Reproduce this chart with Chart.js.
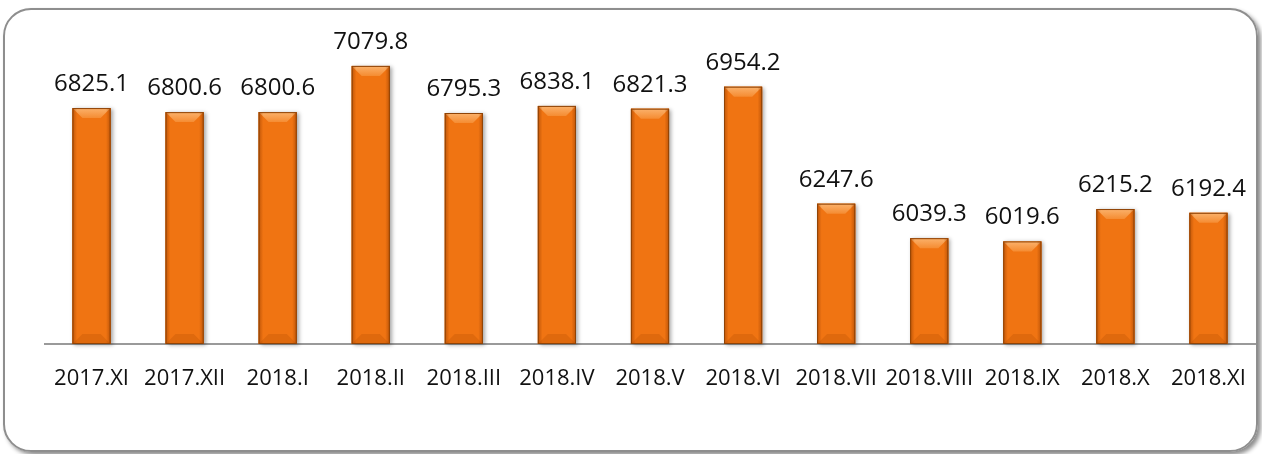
<!DOCTYPE html>
<html>
<head>
<meta charset="utf-8">
<script src="https://cdn.jsdelivr.net/npm/chart.js@4/dist/chart.umd.min.js"></script>
<style>
    body { margin: 0; background: #fff; }
    #frame {
        position: absolute; left: 3px; top: 8px; width: 1251px; height: 440px;
        border: 2px solid #8e8e8e; border-radius: 28px;
        box-shadow: 3px 3px 4px rgba(0,0,0,0.45);
    }
    #wrap { position: absolute; left: 0; top: 0; width: 1262px; height: 454px; }
</style>
</head>
<body>
<div id="frame"></div>
<div id="wrap"><canvas id="myChart"></canvas></div>
<script>
const months = ['2017.XI', '2017.XII', '2018.I', '2018.II', '2018.III', '2018.IV', '2018.V',
    '2018.VI', '2018.VII', '2018.VIII', '2018.IX', '2018.X', '2018.XI'];
const values = [6825.1, 6800.6, 6800.6, 7079.8, 6795.3, 6838.1, 6821.3,
    6954.2, 6247.6, 6039.3, 6019.6, 6215.2, 6192.4];
const yMin = 5400;
const yMax = 7200;

const fontName = '"Open Sans", sans-serif';

// bevel look + shadow for the bars, and value labels on top
const bevelPlugin = {
    id: 'bevel',
    beforeDatasetsDraw(chart) {
        const ctx = chart.ctx;
        chart.getDatasetMeta(0).data.forEach(bar => {
            const w = bar.width;
            ctx.save();
            ctx.shadowColor = 'rgba(0,0,0,0.35)';
            ctx.shadowBlur = 4;
            ctx.shadowOffsetX = 2;
            ctx.shadowOffsetY = 1;
            ctx.fillStyle = '#e86f10';
            ctx.fillRect(bar.x - w / 2, bar.y, w, bar.base - bar.y);
            ctx.restore();
        });
    },
    afterDatasetsDraw(chart) {
        const ctx = chart.ctx;
        chart.getDatasetMeta(0).data.forEach((bar, i) => {
            const w = bar.width;
            const l = bar.x - w / 2, r = bar.x + w / 2, t = bar.y, b = bar.base;
            const bv = 10;
            ctx.save();
            // top bevel
            let g = ctx.createLinearGradient(0, t, 0, t + bv);
            g.addColorStop(0, '#fbb26c');
            g.addColorStop(1, '#f58c32');
            ctx.fillStyle = g;
            ctx.beginPath();
            ctx.moveTo(l, t); ctx.lineTo(r, t); ctx.lineTo(r - bv, t + bv); ctx.lineTo(l + bv, t + bv);
            ctx.closePath(); ctx.fill();
            // side darkening
            g = ctx.createLinearGradient(l, 0, r, 0);
            g.addColorStop(0, 'rgba(150,60,0,0.55)');
            g.addColorStop(0.12, 'rgba(150,60,0,0)');
            g.addColorStop(0.88, 'rgba(150,60,0,0)');
            g.addColorStop(1, 'rgba(150,60,0,0.55)');
            ctx.fillStyle = g;
            ctx.fillRect(l, t, w, b - t);
            // bottom bevel
            ctx.fillStyle = 'rgba(170,70,0,0.25)';
            ctx.beginPath();
            ctx.moveTo(l, b); ctx.lineTo(r, b); ctx.lineTo(r - bv, b - bv); ctx.lineTo(l + bv, b - bv);
            ctx.closePath(); ctx.fill();
            ctx.strokeStyle = '#8f4306';
            ctx.lineWidth = 1;
            ctx.strokeRect(l + 0.5, t + 0.5, w - 1, b - t - 1);
            // value label
            ctx.fillStyle = '#111';
            ctx.font = '24px ' + fontName;
            ctx.textAlign = 'center';
            ctx.textBaseline = 'alphabetic';
            ctx.fillText(values[i].toFixed(1), bar.x, t - 17);
            ctx.restore();
        });
    }
};

let myChart = null;

function createChart() {
    const ctx = document.getElementById('myChart').getContext('2d');
    myChart = new Chart(ctx, {
        type: 'bar',
        data: {
            labels: months,
            datasets: [{
                data: values,
                base: yMin,
                backgroundColor: '#f07412',
                borderWidth: 0,
                categoryPercentage: 1,
                barPercentage: 0.41
            }]
        },
        options: {
            animation: false,
            responsive: true,
            maintainAspectRatio: false,
            layout: {
                padding: { left: 45, right: 7, top: 46, bottom: 0 }
            },
            plugins: {
                legend: { display: false },
                tooltip: { enabled: false }
            },
            scales: {
                x: {
                    grid: { display: false },
                    border: { display: true, color: '#9a9a9a', width: 2 },
                    ticks: {
                        color: '#111',
                        padding: 14,
                        maxRotation: 0,
                        autoSkip: false,
                        font: { family: fontName, size: 22 }
                    },
                    afterFit(scale) {
                        scale.height = 110;
                    }
                },
                y: {
                    display: false,
                    min: yMin,
                    max: yMax
                }
            }
        },
        plugins: [bevelPlugin]
    });
}

createChart();
</script>
</body>
</html>
